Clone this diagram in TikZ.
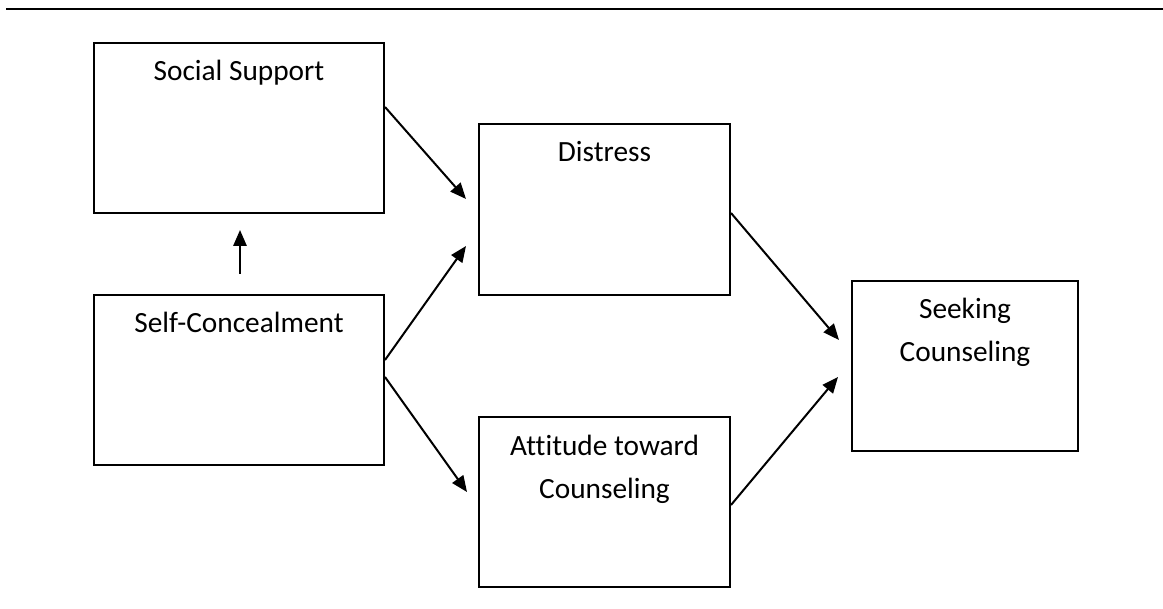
\documentclass[tikz,border=0pt]{standalone}
\usepackage{fontspec}
\setmainfont[Ligatures=NoCommon]{Carlito}
\usetikzlibrary{arrows.meta,calc}

\begin{document}
\begin{tikzpicture}[
    x=.75pt, y=-.75pt,
    box/.style={draw,line width=1.5pt,rectangle,inner sep=0pt,
        minimum height=127.5pt},
    boxtext/.style={anchor=base,yshift=-29.25pt,align=center,
        font=\fontsize{22pt}{32.25pt}\selectfont},
    boxtwo/.style={boxtext,yshift=-32.25pt},
    path/.style={line width=1.5pt,-{Triangle[length=12pt,width=10pt]}}]
    \useasboundingbox (0,0) rectangle (1163,609);

    % Regla superior.
    \draw[line width=1.9pt] (6,9) -- (1163,9);

    % Cajas del modelo.
    \node[box,minimum width=217.5pt,label={[boxtext]north:Social Support}]
        (support) at (239,128) {};
    \node[box,minimum width=217.5pt,label={[boxtext]north:Self-Concealment}]
        (conceal) at (239,380) {};
    \node[box,minimum width=188.25pt,minimum height=128.25pt,
        label={[boxtext]north:Distress}] (distress) at (604.5,209.5) {};
    \node[box,minimum width=188.25pt,
        label={[boxtwo]north:Attitude toward\\Counseling}]
        (attitude) at (604.5,502) {};
    \node[box,minimum width=169.5pt,
        label={[boxtwo]north:Seeking\\Counseling}] (seeking) at (965,366) {};

    % Flechas entre cajas.
    \draw[path] ($(conceal.north)+(1,-20)$) -- ($(support.south)+(1,16)$);
    \draw[path] ($(support.east)+(0,-21)$) -- ($(distress.west)+(-12,-10.5)$);
    \draw[path] ($(conceal.east)+(0,-20)$) -- ($(distress.west)+(-12,36.5)$);
    \draw[path] ($(conceal.east)+(0,-3)$) -- ($(attitude.west)+(-11,-10)$);
    \draw[path] ($(distress.east)+(0,3.5)$) -- ($(seeking.west)+(-12,-26)$);
    \draw[path] ($(attitude.east)+(0,3)$) -- ($(seeking.west)+(-13,11)$);
\end{tikzpicture}
\end{document}
